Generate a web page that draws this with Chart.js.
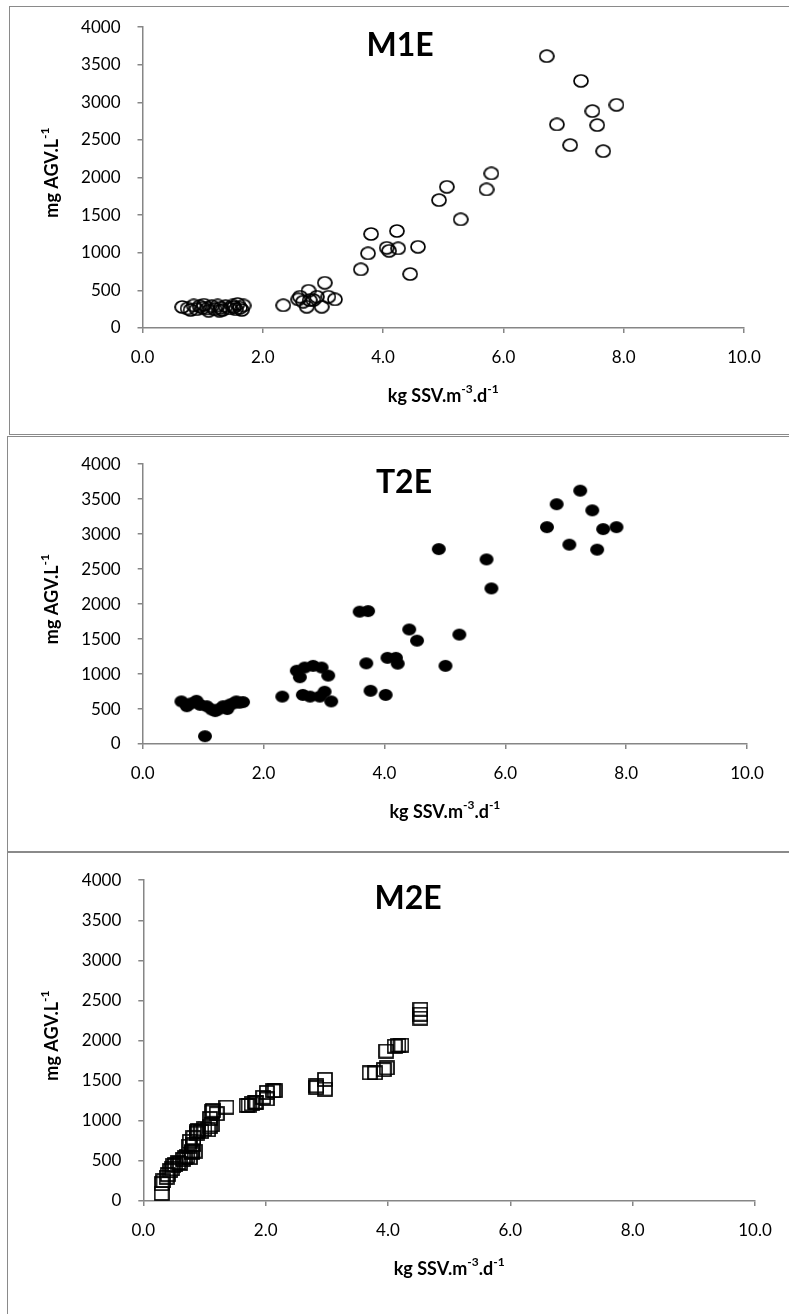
<!DOCTYPE html>
<html>
<head>
<meta charset="utf-8">
<script src="https://cdn.jsdelivr.net/npm/chart.js@4.4.0/dist/chart.umd.min.js"></script>
<style>
  body { margin: 0; background: #fff; width: 789px; height: 1314px; overflow: hidden; position: relative; }
  .panel { position: absolute; left: 0; }
  .frame { position: absolute; border: 1.5px solid #8a8a8a; box-sizing: border-box; pointer-events: none; }
</style>
</head>
<body>
<div class="panel" style="top:0px"><canvas id="c1" width="789" height="434"></canvas></div>
<div class="panel" style="top:437px"><canvas id="c2" width="789" height="414"></canvas></div>
<div class="panel" style="top:853px"><canvas id="c3" width="789" height="461"></canvas></div>
<div class="frame" style="left:9px;top:6px;width:800px;height:429px"></div>
<div class="frame" style="left:7px;top:436px;width:800px;height:416px"></div>
<div class="frame" style="left:7px;top:852px;width:800px;height:500px"></div>
<script>
// M1E - open circles
let m1eX = [0.66, 0.75, 0.80, 0.85, 0.90, 0.95, 1.00, 1.02, 1.08, 1.10, 1.15, 1.20, 1.25, 1.28, 1.30, 1.33, 1.38, 1.45, 1.50, 1.52, 1.55, 1.58, 1.62, 1.65, 1.68,
  2.34, 2.59, 2.62, 2.67, 2.73, 2.76, 2.78, 2.84, 2.90, 2.98, 3.03, 3.09, 3.20,
  3.63, 3.75, 3.80, 4.06, 4.10, 4.23, 4.25, 4.45, 4.58,
  4.93, 5.06, 5.29, 5.72, 5.80,
  6.72, 6.89, 7.11, 7.29, 7.48, 7.56, 7.66, 7.88];
let m1eY = [280, 260, 240, 300, 250, 290, 270, 310, 260, 230, 290, 250, 300, 230, 270, 240, 290, 260, 300, 280, 250, 320, 270, 240, 300,
  302, 381, 416, 350, 283, 496, 372, 372, 416, 283, 602, 416, 381,
  780, 993, 1250, 1067, 1027, 1290, 1059, 718, 1080,
  1701, 1878, 1445, 1843, 2056,
  3615, 2707, 2432, 3287, 2884, 2698, 2352, 2968];

// T2E - filled circles
let t2eX = [0.64, 0.73, 0.80, 0.89, 0.95, 1.03, 1.06, 1.14, 1.20, 1.25, 1.33, 1.40, 1.44, 1.50, 1.55, 1.60, 1.66,
  2.31, 2.55, 2.60, 2.65, 2.68, 2.77, 2.82, 2.93, 2.96, 3.01, 3.07, 3.12,
  3.59, 3.70, 3.73, 3.77, 4.02, 4.05, 4.19, 4.22, 4.41, 4.54,
  4.90, 5.01, 5.24, 5.69, 5.77,
  6.69, 6.85, 7.06, 7.24, 7.44, 7.52, 7.62, 7.84];
let t2eY = [609, 540, 580, 618, 560, 111, 540, 494, 470, 494, 540, 500, 563, 580, 609, 590, 599,
  678, 1048, 955, 702, 1093, 678, 1117, 678, 1093, 747, 978, 609,
  1892, 1153, 1900, 761, 702, 1232, 1232, 1149, 1637, 1477,
  2786, 1117, 1564, 2639, 2224,
  3100, 3428, 2850, 3622, 3340, 2778, 3072, 3100];

// M2E - open squares
let m2eX = [0.30, 0.30, 0.33, 0.38, 0.40, 0.44, 0.47, 0.49, 0.52, 0.57, 0.60, 0.65, 0.68, 0.72, 0.74, 0.76, 0.76, 0.79, 0.80, 0.82, 0.82, 0.84, 0.87, 0.87, 0.90, 0.95, 1.00, 1.06, 1.09, 1.09, 1.12, 1.12, 1.14, 1.20, 1.36,
  1.69, 1.72, 1.77, 1.83, 1.85, 1.96, 2.02, 2.02, 2.12, 2.15,
  2.83, 2.83, 2.97, 2.97,
  3.70, 3.79, 3.93, 3.98, 3.97, 4.11, 4.17, 4.22,
  4.53, 4.53, 4.53];
let m2eY = [94, 216, 250, 297, 330, 378, 400, 439, 450, 480, 470, 520, 540, 560, 683, 540, 744, 601, 620, 704, 790, 622, 846, 866, 880, 866, 900, 887, 927, 1028, 1110, 948, 1131, 1089, 1171,
  1192, 1192, 1211, 1232, 1232, 1293, 1272, 1354, 1375, 1375,
  1415, 1436, 1395, 1517,
  1598, 1598, 1638, 1659, 1870, 1931, 1940, 1944,
  2281, 2330, 2391];

let xTickStep = 2;
let yTickStep = 500;

let font = "Lato, 'Open Sans', sans-serif";
let axisGrey = "#868686";

function marker(kind, w, h) {
  let c = document.createElement("canvas");
  c.width = w;
  c.height = h;
  let g = c.getContext("2d");
  g.strokeStyle = "#000";
  g.fillStyle = "#000";
  g.lineWidth = 1.7;
  if (kind == "square") {
    g.strokeRect(1, 1, w - 2, h - 2);
  } else {
    g.beginPath();
    g.ellipse(w / 2, h / 2, w / 2 - 1, h / 2 - 1, 0, 0, Math.PI * 2);
    kind == "fill" ? g.fill() : g.stroke();
  }
  return c;
}

// text with superscript pieces: [text, isSup]
function drawParts(ctx, parts, cx, cy) {
  let total = 0;
  parts.forEach((p) => {
    ctx.font = p[1] ? "bold 12px " + font : "bold 18px " + font;
    total += ctx.measureText(p[0]).width;
  });
  let x = cx - total / 2;
  parts.forEach((p) => {
    ctx.font = p[1] ? "bold 12px " + font : "bold 18px " + font;
    ctx.fillText(p[0], x, p[1] ? cy - 7 : cy);
    x += ctx.measureText(p[0]).width;
  });
}

let panelText = {
  id: "panelText",
  afterDraw(chart, args, opts) {
    let ctx = chart.ctx;
    let a = chart.chartArea;
    ctx.save();
    ctx.fillStyle = "#000";
    ctx.textAlign = "center";
    ctx.textBaseline = "middle";
    ctx.font = "bold 32px " + font;
    ctx.fillText(opts.name, opts.nameX, a.top + 18);
    ctx.textAlign = "left";
    drawParts(ctx, [["kg SSV.m", false], ["-3", true], [".d", false], ["-1", true]], (a.left + a.right) / 2, a.bottom + 68);
    ctx.translate(52, (a.top + a.bottom) / 2 - 5);
    ctx.rotate(-Math.PI / 2);
    drawParts(ctx, [["mg AGV.L", false], ["-1", true]], 0, 0);
    ctx.restore();
  },
};

function makeChart(id, xs, ys, pt, name, nameX, area) {
  let points = xs.map((x, i) => ({ x: x, y: ys[i] }));
  let canvas = document.getElementById(id);
  return new Chart(canvas.getContext("2d"), {
    type: "scatter",
    data: {
      datasets: [
        {
          data: points,
          pointStyle: pt,
          pointRadius: 7,
          pointHoverRadius: 7,
          backgroundColor: "rgba(0,0,0,0)",
          borderColor: "#000",
        },
      ],
    },
    options: {
      responsive: false,
      animation: false,
      events: [],
      layout: { padding: { top: area.top, right: 789 - area.right, left: 0, bottom: 0 } },
      plugins: {
        legend: { display: false },
        tooltip: { enabled: false },
        panelText: { name: name, nameX: nameX },
      },
      scales: {
        x: {
          type: "linear",
          min: 0,
          max: 10,
          afterFit: (s) => { s.height = canvas.height - area.bottom; },
          ticks: {
            stepSize: xTickStep,
            callback: (v) => v.toFixed(1),
            color: "#000",
            font: { family: font, size: 17 },
            padding: 14,
            maxRotation: 0,
          },
          grid: { drawOnChartArea: false, drawTicks: true, tickLength: 5, color: axisGrey, lineWidth: 1.5 },
          border: { color: axisGrey, width: 1.5 },
        },
        y: {
          min: 0,
          max: 4000,
          afterFit: (s) => { s.width = area.left; },
          ticks: {
            stepSize: yTickStep,
            callback: (v) => String(v),
            color: "#000",
            font: { family: font, size: 17 },
            padding: 17,
          },
          grid: { drawOnChartArea: false, drawTicks: true, tickLength: 5, color: axisGrey, lineWidth: 1.5 },
          border: { color: axisGrey, width: 1.5 },
        },
      },
    },
    plugins: [panelText],
  });
}

makeChart("c1", m1eX, m1eY, marker("open", 16, 14), "M1E", 400, { left: 142.5, right: 744, top: 27, bottom: 328 });
makeChart("c2", t2eX, t2eY, marker("fill", 16, 14), "T2E", 404, { left: 142.7, right: 747, top: 18, bottom: 307 });
makeChart("c3", m2eX, m2eY, marker("square", 16, 15), "M2E", 408, { left: 143.3, right: 755, top: 20, bottom: 348 });
</script>
</body>
</html>
